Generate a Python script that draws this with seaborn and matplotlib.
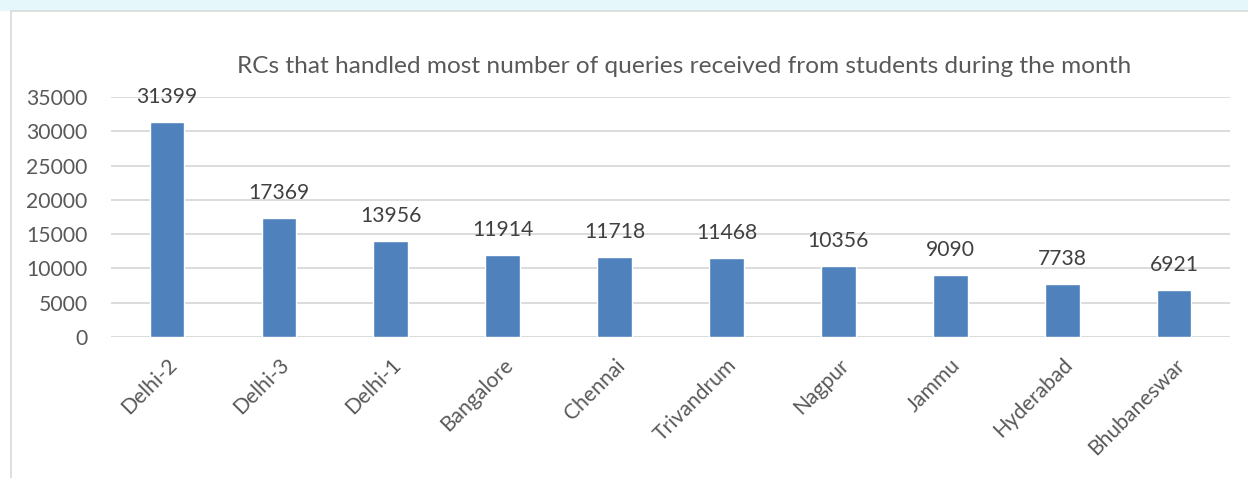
import matplotlib
matplotlib.use("Agg")
import matplotlib.pyplot as plt
import seaborn as sns
import pandas as pd
from matplotlib.patches import Rectangle
from matplotlib.lines import Line2D

# Chart data
centres = ["Delhi-2", "Delhi-3", "Delhi-1", "Bangalore", "Chennai",
           "Trivandrum", "Nagpur", "Jammu", "Hyderabad", "Bhubaneswar"]
queries = [31399, 17369, 13956, 11914, 11718, 11468, 10356, 9090, 7738, 6921]
y_ticks = [0, 5000, 10000, 15000, 20000, 25000, 30000, 35000]
title = "RCs that handled most number of queries received from students during the month"

df = pd.DataFrame({"centre": centres, "queries": queries})

sns.set_theme(style="white")
plt.rcParams["font.family"] = ["Lato", "DejaVu Sans"]
text_col = "#595959"
grid_col = "#d9d9d9"

fig = plt.figure(figsize=(12.48, 4.78), dpi=100)
ax = fig.add_axes([0.089, 0.295, 0.8966, 0.502])

sns.barplot(data=df, x="centre", y="queries", color="#4f81bd",
            saturation=1, width=0.31, ax=ax, zorder=3)

ax.set_ylim(0, 35000)
ax.set_yticks(y_ticks)
ax.set_yticklabels([str(t) for t in y_ticks], fontsize=15.2, color=text_col)
ax.yaxis.grid(True, color=grid_col, linewidth=1.3, zorder=0)
ax.set_axisbelow(True)
for s in ax.spines.values():
    s.set_visible(False)
ax.tick_params(axis="both", length=0)
ax.tick_params(axis="y", pad=17)
ax.set_xlabel("")
ax.set_ylabel("")
ax.set_xticks(range(len(centres)))
ax.set_xticklabels(centres, rotation=45, ha="right", rotation_mode="anchor",
                   fontsize=15.2, color=text_col)
ax.tick_params(axis="x", pad=13)

# value labels above bars
for i, v in enumerate(queries):
    ax.annotate(str(v), (i, v), xytext=(0, 18), textcoords="offset points",
                ha="center", va="center", fontsize=15.2, color="#404040")

fig.text(0.5485, 0.86, title, ha="center", va="center", fontsize=17.6, color=text_col)

# light strip at the top and the chart frame
fig.patches.append(Rectangle((0, 0.977), 1, 0.023, transform=fig.transFigure,
                             facecolor="#e6f7fb", edgecolor="none"))
fig.lines.append(Line2D([11 / 1248, 1], [1 - 11 / 478] * 2, transform=fig.transFigure,
                        color=grid_col, linewidth=1.2))
fig.lines.append(Line2D([11 / 1248] * 2, [0, 1 - 11 / 478], transform=fig.transFigure,
                        color=grid_col, linewidth=1.2))

fig.savefig("out.png", dpi=100, facecolor="white")
